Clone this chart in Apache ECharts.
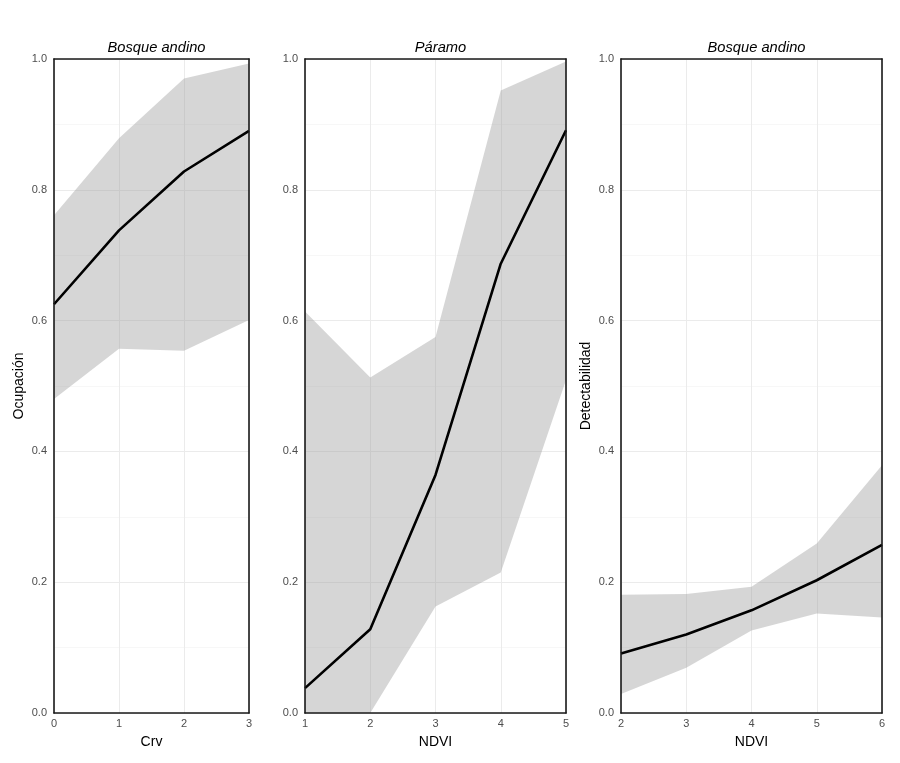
<!DOCTYPE html>
<html>
<head>
<meta charset="utf-8">
<script src="https://cdn.jsdelivr.net/npm/echarts@6/dist/echarts.min.js"></script>
<style>
html,body{margin:0;padding:0;background:#fff;}
#chart{width:900px;height:763px;}
</style>
</head>
<body>
<div id="chart"></div>
<script>
// ---- Data ----
const titles = ['Bosque andino', 'Páramo', 'Bosque andino'];
const xNames = ['Crv', 'NDVI', 'NDVI'];
const yNames = ['Ocupación', '', 'Detectabilidad'];

const crvX = ['0', '1', '2', '3'];
const occCrvMean = [0.625, 0.738, 0.828, 0.890];
const occCrvLow  = [0.480, 0.557, 0.554, 0.601];
const occCrvHigh = [0.761, 0.879, 0.970, 0.993];

const ndviParamoX = ['1', '2', '3', '4', '5'];
const occNdviMean = [0.038, 0.128, 0.364, 0.687, 0.891];
const occNdviLow  = [0.000, 0.000, 0.163, 0.215, 0.509];
const occNdviHigh = [0.614, 0.513, 0.575, 0.952, 0.996];

const ndviBosqueX = ['2', '3', '4', '5', '6'];
const detNdviMean = [0.091, 0.120, 0.157, 0.203, 0.257];
const detNdviLow  = [0.029, 0.069, 0.126, 0.152, 0.146];
const detNdviHigh = [0.181, 0.182, 0.193, 0.259, 0.379];

// ---- Build ----
const panels = [
  {x: crvX, mean: occCrvMean, low: occCrvLow, high: occCrvHigh},
  {x: ndviParamoX, mean: occNdviMean, low: occNdviLow, high: occNdviHigh},
  {x: ndviBosqueX, mean: detNdviMean, low: detNdviLow, high: detNdviHigh}
];
const gridPos = [
  {left: 54, width: 195},
  {left: 305, width: 261},
  {left: 621, width: 261}
];
const FONT = 'Liberation Sans, Arial, sans-serif';
const frameLine = {show: true, onZero: false, lineStyle: {color: '#1a1a1a', width: 1.6}};
const hidden = {show: false};

const grids = [], xAxes = [], yAxes = [], series = [], titleArr = [];
panels.forEach((p, i) => {
  grids.push({
    left: gridPos[i].left, width: gridPos[i].width, top: 59, bottom: 50,
    show: false, containLabel: false
  });
  titleArr.push({
    text: titles[i],
    left: gridPos[i].left + gridPos[i].width / 2,
    top: 35,
    textAlign: 'center',
    textStyle: {fontFamily: FONT, fontSize: 14.7, fontStyle: 'italic', fontWeight: 'normal', color: '#000'}
  });
  // main x axis (bottom): labels, name, grid lines
  xAxes.push({
    type: 'category', gridIndex: i, data: p.x, boundaryGap: false, position: 'bottom',
    name: xNames[i], nameLocation: 'middle', nameGap: 22,
    nameTextStyle: {fontFamily: FONT, fontSize: 14, color: '#000'},
    axisLine: {show: false, onZero: false}, axisTick: hidden,
    axisLabel: {fontFamily: FONT, fontSize: 11, color: '#4d4d4d', margin: 5, interval: 0},
    splitLine: {show: true, interval: 0, lineStyle: {color: '#ebebeb', width: 1}}
  });
  // frame: bottom and top
  ['bottom', 'top'].forEach(pos => xAxes.push({
    type: 'category', gridIndex: i, data: p.x, boundaryGap: false, position: pos,
    axisLine: frameLine, axisTick: hidden, axisLabel: hidden, splitLine: hidden, z: 10
  }));
  // main y axis
  yAxes.push({
    type: 'value', gridIndex: i, min: 0, max: 1, interval: 0.2, position: 'left',
    name: yNames[i], nameLocation: 'middle', nameGap: 28,
    nameTextStyle: {fontFamily: FONT, fontSize: 14, color: '#000'},
    axisLine: {show: false, onZero: false}, axisTick: hidden,
    axisLabel: {fontFamily: FONT, fontSize: 11, color: '#4d4d4d', margin: 7,
      formatter: v => v.toFixed(1)},
    splitLine: {show: true, lineStyle: {color: '#ebebeb', width: 1}},
    minorTick: {show: false, splitNumber: 2},
    minorSplitLine: {show: true, lineStyle: {color: '#f3f3f3', width: 0.7}}
  });
  // frame: left and right
  ['left', 'right'].forEach(pos => yAxes.push({
    type: 'value', gridIndex: i, min: 0, max: 1, interval: 0.2, position: pos,
    axisLine: frameLine, axisTick: hidden, axisLabel: hidden, splitLine: hidden, z: 10
  }));
  const xi = i * 3, yi = i * 3;
  const stackId = 'band' + i;
  series.push({
    type: 'line', xAxisIndex: xi, yAxisIndex: yi, stack: stackId,
    data: p.low,
    symbol: 'none', lineStyle: {opacity: 0}, silent: true, z: 1
  });
  series.push({
    type: 'line', xAxisIndex: xi, yAxisIndex: yi, stack: stackId,
    data: p.high.map((h, k) => +(h - p.low[k]).toFixed(4)),
    symbol: 'none', lineStyle: {opacity: 0}, silent: true, z: 1,
    areaStyle: {color: 'rgba(153,153,153,0.4)', opacity: 1}
  });
  series.push({
    type: 'line', xAxisIndex: xi, yAxisIndex: yi,
    data: p.mean,
    symbol: 'none', lineStyle: {color: '#000', width: 2.6}, z: 3
  });
});

const chart = echarts.init(document.getElementById('chart'));
chart.setOption({
  animation: false,
  backgroundColor: '#fff',
  title: titleArr,
  grid: grids,
  xAxis: xAxes,
  yAxis: yAxes,
  series: series
});
</script>
</body>
</html>
